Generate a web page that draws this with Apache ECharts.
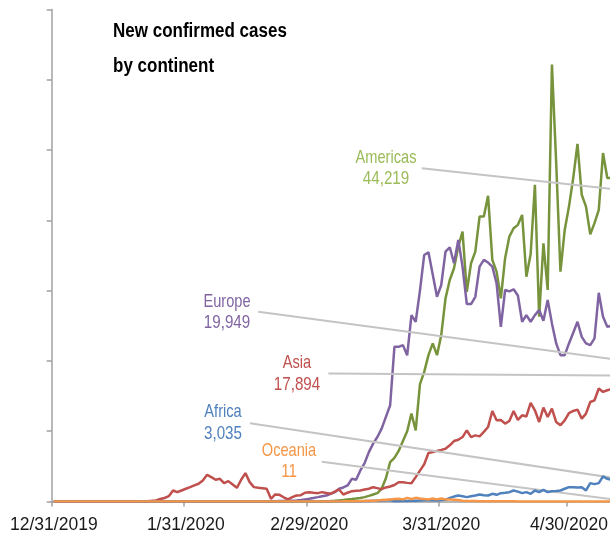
<!DOCTYPE html>
<html><head><meta charset="utf-8">
<script src="https://cdn.jsdelivr.net/npm/echarts@6/dist/echarts.min.js"></script>
<style>html,body{margin:0;padding:0;background:#fff}#c{width:610px;height:536px}</style>
</head><body><div id="c"></div>
<script>
// Tick labels on the date axis
const tickLabels = ['12/31/2019', '1/31/2020', '2/29/2020', '3/31/2020', '4/30/2020'];

// Daily new confirmed cases, 12/31/2019 .. 5/14/2020 (136 days)
const americas = [
  0,0,0,0,0,0,0,0,0,0, 0,0,0,0,0,0,0,0,0,0,
  0,0,0,0,0,0,0,0,0,0, 0,0,0,0,0,0,0,0,0,0,
  0,0,0,0,0,0,0,0,0,0, 0,0,0,0,0,2,3,5,5,8,
  10,15,20,30,40,60,100,150,200,300,
  350,420,500,620,800,1000,1190,1810,3300,5600,
  6200,7200,8600,10000,12500,10120,16700,18440,20820,22490,
  20820,23670,28900,31510,33180,36260,38400,29850,33900,35550,
  40540,40540,43490,34370,32700,28900,34610,37690,38880,39360,
  40780,31990,35220,45060,26280,36740,30090,62170,48160,32700,
  38640,41960,46020,50870,43640,41960,38030,39600,41500,49580,
  46020,46020,37000,40000,42000,44219
];
const europe = [
  0,0,0,0,0,0,0,0,0,0, 0,0,0,0,0,0,0,0,0,0,
  0,0,0,0,0,0,0,0,0,0, 0,0,0,0,0,0,0,0,0,0,
  0,0,0,0,0,0,0,0,0,0, 2,5,20,60,80,100,120,150,200,300,
  380,500,620,750,855,1100,1330,1810,2000,2280,
  3230,3090,4420,5470,7030,8230,9170,10370,12030,13690,
  22000,22000,22250,20800,26500,25570,30000,35080,35460,32300,
  29130,30800,35550,36170,33900,37220,33410,28090,28090,29130,
  33410,34370,34000,33410,31040,24860,30090,29900,30190,29300,
  25570,26520,25570,26520,27240,25710,28660,25340,22490,20820,
  20820,22490,24000,25570,23430,22490,22250,23200,29700,26280,
  24860,25000,21000,19000,22000,19949
];
const asia = [
  0,0,0,0,0,0,0,0,0,0, 0,0,0,0,0,0,0,0,10,20,
  20,30,50,90,150,350,500,760,1570,1330,
  1570,1810,2045,2300,2520,2995,3800,3470,3090,3230,
  2615,2900,2425,1950,3090,4040,2760,2045,1950,1880,
  1810,380,1000,950,600,300,620,855,900,1250,
  1330,1250,1190,1330,1200,1090,1400,1710,1000,1250,
  1470,1520,1570,1700,1810,2040,1900,1750,2000,2140,
  2350,2750,2750,2650,2600,3470,4400,5300,6900,7030,
  7200,7350,7510,7990,8600,8790,9170,10120,9170,9410,
  9270,9900,10600,12880,11550,11600,11080,11460,12880,11600,
  12260,12100,14020,12980,11310,13360,12020,13220,11310,10840,
  11550,12590,12880,13070,11790,12500,14160,14400,16070,15590,
  15830,16000,16600,17200,16900,17894
];
const africa = [
  0,0,0,0,0,0,0,0,0,0, 0,0,0,0,0,0,0,0,0,0,
  0,0,0,0,0,0,0,0,0,0, 0,0,0,0,0,0,0,0,0,0,
  0,0,0,0,0,0,0,0,0,0, 0,0,0,0,0,0,0,0,0,0,
  1,2,3,5,5,8,10,15,20,25, 30,40,50,60,80,100,120,150,180,200,
  40,50,60,80,100,120,140,160,180,200,
  150,200,240,520,700,855,750,620,740,850,
  1000,900,855,1090,950,1190,1250,1330,1570,1400,
  1190,1330,1090,1570,1330,1660,1330,1470,1500,1570,
  1810,2040,2040,2000,2040,1570,2610,2470,2610,3565,
  3230,3100,2800,3000,3300,3035
];
const oceania = [
  0,0,0,0,0,0,0,0,0,0, 0,0,0,0,0,0,0,0,0,0,
  0,0,0,0,0,0,0,0,0,0, 0,0,0,0,0,0,0,0,0,0,
  0,0,0,0,0,0,0,0,0,0, 0,0,0,0,0,0,0,0,0,0,
  1,2,2,3,5,8,10,15,20,30, 40,50,60,80,100,120,150,200,250,300,
  350,400,300,520,350,520,430,350,300,430,
  300,430,300,280,250,200,100,80,70,60,
  50,45,40,35,30,25,20,20,18,15,
  15,12,12,10,10,8,8,6,6,5,
  5,5,4,4,3,3,3,2,2,2,
  2,2,3,5,8,11
];

// Continent labels: name, value text
const seriesNames = ['Americas', 'Europe', 'Asia', 'Africa', 'Oceania'];
const valueLabels = ['44,219', '19,949', '17,894', '3,035', '11'];

const categories = [];
for (let i = 0; i < americas.length; i++) {
  const d = new Date(2019, 11, 31 + i);
  categories.push((d.getMonth() + 1) + '/' + d.getDate() + '/' + d.getFullYear());
}
const tickSet = new Set(tickLabels);
const showTick = (idx, val) => tickSet.has(val);

const lineColors = ['#77933c', '#8064a2', '#c0504d', '#4f81bd', '#f79646'];
const labelColors = ['#9bbb59', '#8064a2', '#c0504d', '#4f81bd', '#f79646'];
const labelPos = [[386, 157.5, 178.5], [227, 301.5, 323], [297, 363, 385], [223, 412, 434], [289, 451, 472]];
const leaderStart = [[421.7, 168.3], [258.3, 311.7], [328.3, 373.5], [250, 423.3], [321.7, 461.7]];
const dataSets = [americas, europe, asia, africa, oceania];
const N = americas.length;
const FONT = '"Liberation Sans", Arial, sans-serif';

const series = dataSets.map((arr, i) => ({
  name: seriesNames[i],
  type: 'line',
  data: arr,
  showSymbol: false,
  symbol: 'none',
  lineStyle: { color: lineColors[i], width: 2.5 },
  itemStyle: { color: lineColors[i] },
  z: 2 + i,
  silent: true,
  markLine: {
    silent: true,
    symbol: ['none', 'none'],
    label: { show: false },
    emphasis: { disabled: true },
    lineStyle: { color: '#c4c4c4', width: 2, type: 'solid' },
    data: [[{ x: leaderStart[i][0], y: leaderStart[i][1] }, { coord: [categories[N - 1], arr[N - 1]] }]]
  }
}));

const graphics = [
  { type: 'text', x: 113, y: 31, scaleX: 0.85, style: { text: 'New confirmed cases', font: 'bold 20px ' + FONT, fill: '#000', align: 'left', verticalAlign: 'middle' } },
  { type: 'text', x: 113, y: 66, scaleX: 0.85, style: { text: 'by continent', font: 'bold 20px ' + FONT, fill: '#000', align: 'left', verticalAlign: 'middle' } }
];
seriesNames.forEach((n, i) => {
  graphics.push({ type: 'text', x: labelPos[i][0], y: labelPos[i][1], scaleX: 0.79, style: { text: n, font: '18.5px ' + FONT, fill: labelColors[i], align: 'center', verticalAlign: 'middle' } });
  graphics.push({ type: 'text', x: labelPos[i][0], y: labelPos[i][2], scaleX: 0.82, style: { text: valueLabels[i], font: '18.5px ' + FONT, fill: labelColors[i], align: 'center', verticalAlign: 'middle' } });
});

const chart = echarts.init(document.getElementById('c'), null, { renderer: 'canvas' });
chart.setOption({
  animation: false,
  backgroundColor: '#fff',
  grid: { left: 51.7, top: 9.5, bottom: 34.5, width: 579, containLabel: false, outerBoundsMode: 'none' },
  xAxis: {
    type: 'category',
    data: categories,
    boundaryGap: true,
    axisLine: { show: true, lineStyle: { color: '#a0a0a0', width: 1.5 } },
    axisTick: { show: true, interval: showTick, length: 5, lineStyle: { color: '#a0a0a0', width: 1.5 } },
    axisLabel: { show: true, interval: showTick, margin: 15, fontSize: 17.5, fontFamily: FONT, color: '#1a1a1a' },
    splitLine: { show: false }
  },
  yAxis: {
    type: 'value',
    min: 0, max: 70000, interval: 10000,
    axisLine: { show: true, lineStyle: { color: '#a0a0a0', width: 1.5 } },
    axisTick: { show: true, length: 5, lineStyle: { color: '#a0a0a0', width: 1.5 } },
    axisLabel: { show: false },
    splitLine: { show: false }
  },
  tooltip: { show: false },
  series: series,
  graphic: graphics
});
</script>
</body></html>
